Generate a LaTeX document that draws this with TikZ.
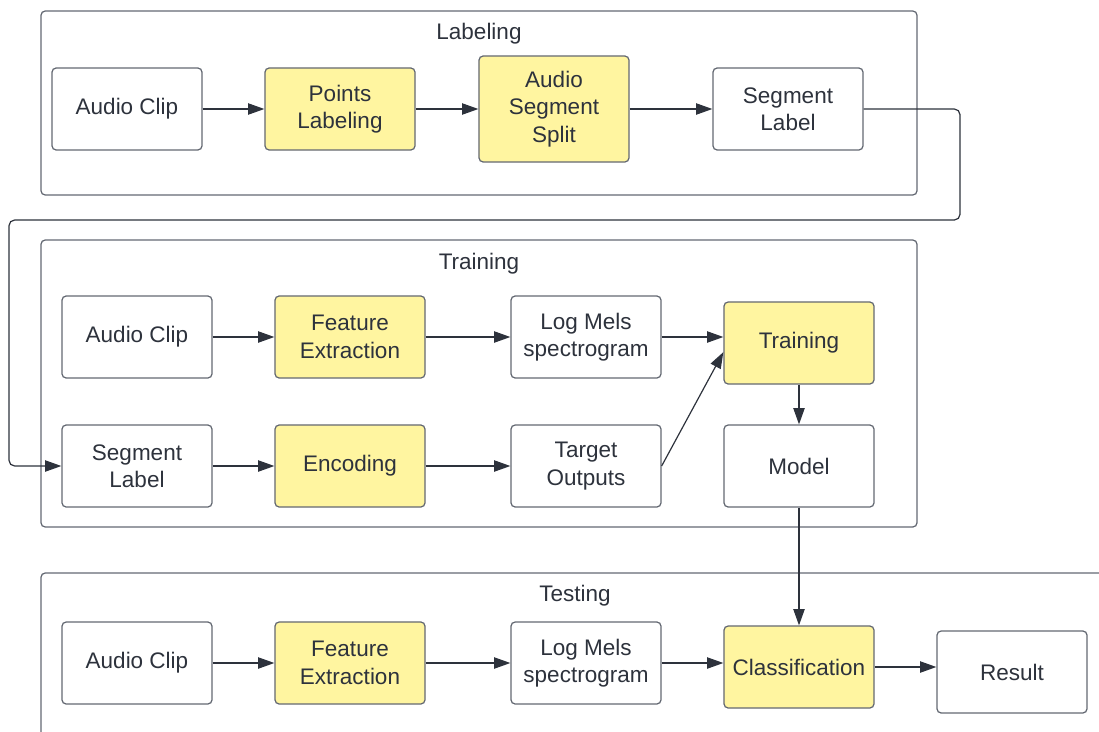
\documentclass[tikz,border=0pt]{standalone}
\usepackage{fontspec}
\setmainfont{Liberation Sans}
\usetikzlibrary{arrows.meta}
\definecolor{edge}{RGB}{100,105,115}
\definecolor{ink}{RGB}{45,50,60}
\definecolor{note}{RGB}{255,245,160}
\tikzset{
  box/.style={draw=edge, line width=0.9pt, rounded corners=3pt, fill=white,
    text=ink, align=center, inner sep=0pt, minimum width=3.75cm,
    minimum height=2.05cm, font=\fontsize{16}{19.5}\selectfont},
  ybox/.style={box, fill=note},
  frame/.style={draw=edge, line width=0.9pt, rounded corners=3pt},
  title/.style={text=ink, inner sep=0pt, font=\fontsize{16}{19.5}\selectfont},
  arr/.style={draw=ink, line width=0.85pt, -{Triangle[length=11.5pt,width=8pt]}}
}
\begin{document}
\begin{tikzpicture}[x=0.025cm, y=-0.025cm]
  \useasboundingbox (0,0) rectangle (1099,731);
  % stage frames
  \draw[frame] (41,11) rectangle (917,195);
  \draw[frame] (41,240) rectangle (917,527);
  \draw[frame] (41,573) rectangle (1109,760);
  \node[title] (labtitle) at (479,34) {Labeling};
  \node[title] (traintitle) at (479,264) {Training};
  \node[title] (testtitle) at (575,596) {Testing};

  % labeling
  \node[box] (lclip) at (127,109) {Audio Clip};
  \node[ybox] (lpoints) at (340,109) {Points\\Labeling};
  \node[ybox, minimum height=2.65cm] (lsplit) at (554,109) {Audio\\Segment\\Split};
  \node[box] (lseg) at (788,109) {Segment\\Label};
  \draw[arr] (lclip) -- (lpoints);
  \draw[arr] (lpoints) -- (lsplit);
  \draw[arr] (lsplit) -- (lseg);

  % training
  \node[box] (tclip) at (137,337) {Audio Clip};
  \node[ybox] (tfeat) at (350,337) {Feature\\Extraction};
  \node[box] (tlog) at (586,337) {Log Mels\\spectrogram};
  \node[ybox] (ttrain) at (799,343) {Training};
  \node[box] (tseg) at (137,466) {Segment\\Label};
  \node[ybox] (tenc) at (350,466) {Encoding};
  \node[box] (ttarget) at (586,466) {Target\\Outputs};
  \node[box] (model) at (799,466) {Model};
  \draw[arr] (tclip) -- (tfeat);
  \draw[arr] (tfeat) -- (tlog);
  \draw[arr] (tlog.east) -- (tlog.east -| ttrain.west);
  \draw[arr] (tseg) -- (tenc);
  \draw[arr] (tenc) -- (ttarget);
  \draw[arr] (ttarget.east) -- ([yshift=-6.5pt]ttrain.west);
  \draw[arr] (ttrain) -- (model);
  \draw[arr, rounded corners=4pt] (lseg.east) -- (960,109) -- (960,220)
    -- (9,220) |- (tseg.west);

  % testing
  \node[box] (eclip) at (137,663) {Audio Clip};
  \node[ybox] (efeat) at (350,663) {Feature\\Extraction};
  \node[box] (elog) at (586,663) {Log Mels\\spectrogram};
  \node[ybox] (cls) at (799,667) {Classification};
  \node[box] (res) at (1012,672) {Result};
  \draw[arr] (eclip) -- (efeat);
  \draw[arr] (efeat) -- (elog);
  \draw[arr] (elog.east) -- (elog.east -| cls.west);
  \draw[arr] (cls.east) -- (cls.east -| res.west);
  \draw[arr] (model) -- (cls);
\end{tikzpicture}
\end{document}
